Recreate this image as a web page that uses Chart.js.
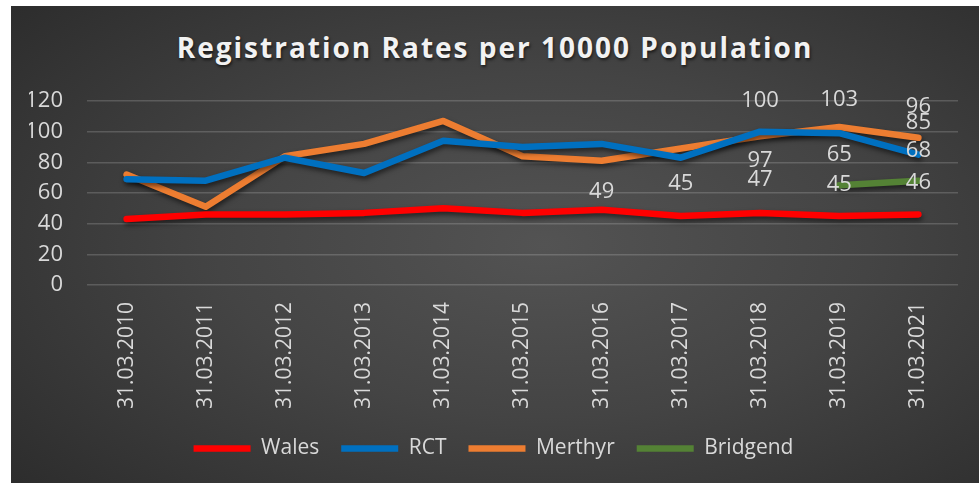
<!DOCTYPE html>
<html>
<head>
<meta charset="utf-8">
<script src="https://cdn.jsdelivr.net/npm/chart.js@4"></script>
<style>
  html, body { margin: 0; padding: 0; background: #fff; }
  #frame {
    position: absolute; left: 11px; top: 6px; width: 968px; height: 477px;
    background: radial-gradient(ellipse 75% 80% at 55% 50%, #535353 0%, #444 45%, #2b2b2b 100%);
  }
  #title {
    position: absolute; left: 0; right: 0; top: 22px; text-align: center;
    font: bold 28px "Open Sans", sans-serif; letter-spacing: 2px; color: #f2f2f2;
    text-shadow: 1px 2px 3px rgba(0,0,0,0.6);
  }
  canvas { position: absolute; left: 0; top: 0; }
</style>
</head>
<body>
<div id="frame">
  <div id="title">Registration Rates per 10000 Population</div>
  <canvas id="chart" width="968" height="477"></canvas>
</div>
<script>
/* ---------- data ---------- */
const categories = ["31.03.2010", "31.03.2011", "31.03.2012", "31.03.2013", "31.03.2014",
  "31.03.2015", "31.03.2016", "31.03.2017", "31.03.2018", "31.03.2019", "31.03.2021"];

const wales    = [43, 46, 46, 47, 50, 47, 49, 45, 47, 45, 46];
const rct      = [69, 68, 83, 73, 94, 90, 92, 83, 100, 99, 85];
const merthyr  = [72, 51, 84, 92, 107, 84, 81, 89, 97, 103, 96];
const bridgend = [null, null, null, null, null, null, null, null, null, 65, 68];

const yTicks = [0, 20, 40, 60, 80, 100, 120];

// which points carry a value label (index -> pixel offset from the point)
const walesLabelled    = { 6: -18, 7: -32, 8: -33, 9: -31, 10: -32 };
const rctLabelled      = { 8: -31, 10: -32 };
const merthyrLabelled  = { 8: 24, 9: -27, 10: -31 };
const bridgendLabelled = { 9: -31, 10: -30 };

/* ---------- helpers ---------- */
const TEXT = "#d9d9d9";
const FONT = "'Open Sans', sans-serif";

function series(label, data, color, labelled) {
  return {
    label, data,
    borderColor: color, backgroundColor: color,
    borderWidth: 6.5, borderCapStyle: "round", borderJoinStyle: "round",
    pointRadius: 0, tension: 0, spanGaps: false,
    labelled
  };
}

const lineShadow = {
  id: "lineShadow",
  beforeDatasetDraw(chart) {
    const ctx = chart.ctx;
    ctx.shadowColor = "rgba(0,0,0,0.55)";
    ctx.shadowBlur = 5;
    ctx.shadowOffsetX = 1;
    ctx.shadowOffsetY = 3;
  },
  afterDatasetDraw(chart) {
    const ctx = chart.ctx;
    ctx.shadowColor = "transparent";
    ctx.shadowBlur = 0;
    ctx.shadowOffsetX = 0;
    ctx.shadowOffsetY = 0;
  }
};

const valueLabels = {
  id: "valueLabels",
  afterDatasetsDraw(chart) {
    const ctx = chart.ctx;
    ctx.save();
    ctx.font = "22px " + FONT;
    ctx.fillStyle = TEXT;
    ctx.textAlign = "center";
    ctx.textBaseline = "middle";
    chart.data.datasets.forEach((ds, i) => {
      const meta = chart.getDatasetMeta(i);
      Object.entries(ds.labelled || {}).forEach(([idx, off]) => {
        const pt = meta.data[idx];
        if (!pt || ds.data[idx] == null) return;
        ctx.fillText(String(ds.data[idx]), pt.x, pt.y + off);
      });
    });
    ctx.restore();
  }
};

/* ---------- chart ---------- */
new Chart(document.getElementById("chart"), {
  type: "line",
  data: {
    labels: categories,
    datasets: [
      series("Wales", wales, "#ff0000", walesLabelled),
      series("RCT", rct, "#0070c0", rctLabelled),
      series("Merthyr", merthyr, "#ed7d31", merthyrLabelled),
      series("Bridgend", bridgend, "#548235", bridgendLabelled)
    ]
  },
  options: {
    responsive: false,
    animation: false,
    layout: { padding: { left: 18, right: 21, top: 95, bottom: 14 } },
    plugins: {
      title: { display: false },
      tooltip: { enabled: false },
      legend: {
        position: "bottom",
        labels: {
          usePointStyle: true,
          pointStyle: "line",
          pointStyleWidth: 57,
          boxHeight: 20,
          color: TEXT,
          padding: 22,
          font: { family: FONT, size: 21 }
        }
      }
    },
    scales: {
      x: {
        offset: true,
        grid: { display: false, drawTicks: false },
        border: { display: false },
        afterFit(axis) { axis.height -= 10; },
        ticks: {
          color: TEXT, padding: 17, autoSkip: false,
          minRotation: 90, maxRotation: 90,
          font: { family: FONT, size: 21 }
        }
      },
      y: {
        min: 0, max: 120,
        afterBuildTicks(axis) { axis.ticks = yTicks.map(v => ({ value: v })); },
        afterFit(axis) { axis.width = 58; },
        grid: { color: "rgba(255,255,255,0.17)", lineWidth: 1.5, drawTicks: false },
        border: { display: false },
        ticks: {
          color: TEXT, padding: 24,
          font: { family: FONT, size: 22 }
        }
      }
    }
  },
  plugins: [lineShadow, valueLabels]
});
</script>
</body>
</html>
